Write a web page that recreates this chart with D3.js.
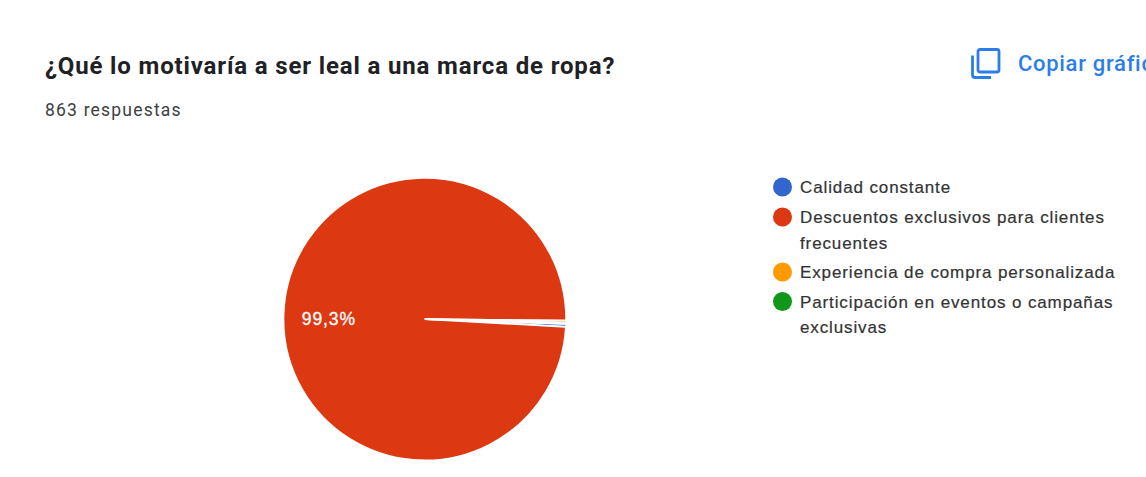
<!DOCTYPE html>
<html lang="es">
<head>
<meta charset="utf-8">
<script src="https://cdn.jsdelivr.net/npm/d3@7"></script>
<style>
  html, body { margin: 0; padding: 0; background: #fff; overflow: hidden; }
  svg { display: block; font-family: Roboto, sans-serif; }
</style>
</head>
<body>
<svg id="chart" width="1146" height="477"></svg>
<script>
// Survey answers: question, response count and the four options.
const question = "¿Qué lo motivaría a ser leal a una marca de ropa?";
const responses = "863 respuestas";
const categories = [
  "Calidad constante",
  "Descuentos exclusivos para clientes frecuentes",
  "Experiencia de compra personalizada",
  "Participación en eventos o campañas exclusivas"
];
const legendLines = [
  ["Calidad constante"],
  ["Descuentos exclusivos para clientes", "frecuentes"],
  ["Experiencia de compra personalizada"],
  ["Participación en eventos o campañas", "exclusivas"]
];
const counts = [3, 857, 2, 1];
const colors = ["#3366cc", "#dc3912", "#ff9900", "#109618"];
const sliceLabels = ["", "99,3%", "", ""];

const svg = d3.select("#chart");

svg.append("text").attr("x", 45).attr("y", 74)
  .attr("font-size", 24).attr("font-weight", 700).attr("letter-spacing", 0.85).attr("fill", "#202124")
  .text(question);

svg.append("text").attr("x", 45).attr("y", 116)
  .attr("font-size", 17.5).attr("letter-spacing", 1.2).attr("fill", "#3c4043")
  .text(responses);

// "Copy chart" action in the header, clipped by the page edge.
const copy = svg.append("g").attr("transform", "translate(971,48)");
copy.append("path")
  .attr("d", "M9 1.5 H26 A2 2 0 0 1 28 3.5 V22 A2 2 0 0 1 26 24 H9 A2 2 0 0 1 7 22 V3.5 A2 2 0 0 1 9 1.5 Z M1.5 7.5 V27 A2.5 2.5 0 0 0 4 29.5 H20")
  .attr("fill", "none").attr("stroke", "#2b7de9").attr("stroke-width", 2.8);
svg.append("text").attr("x", 1018).attr("y", 71)
  .attr("font-size", 22).attr("font-weight", 500).attr("letter-spacing", 0.7).attr("fill", "#2b7de9")
  .text("Copiar gráfico");

// Pie, rotated so the thin slices sit at three o'clock.
const cx = 424.8, cy = 319.1, radius = 141.3;
const startDeg = 91.9;
const pie = d3.pie().sort(null).value(d => d)
  .startAngle(startDeg * Math.PI / 180)
  .endAngle((startDeg + 360) * Math.PI / 180);
const arc = d3.arc().innerRadius(0).outerRadius(radius);
const chart = svg.append("g").attr("transform", `translate(${cx},${cy})`);

chart.selectAll("path").data(pie(counts)).join("path")
  .attr("d", arc)
  .attr("fill", (d, i) => colors[i])
  .attr("stroke", "#fff")
  .attr("stroke-width", 1.7);

chart.selectAll("text").data(pie(counts)).join("text")
  .attr("x", -123).attr("y", 6)
  .attr("font-family", "'Liberation Sans', Arial, sans-serif")
  .attr("font-size", 17.5).attr("letter-spacing", 0.9)
  .attr("fill", "#fff").attr("stroke", "#fff").attr("stroke-width", 0.3)
  .text((d, i) => sliceLabels[i]);

// Legend: dot plus one or two lines of text per option.
const legendY = d3.scaleOrdinal().domain(categories).range([187, 217, 272, 301.5]);
const legend = svg.append("g").selectAll("g").data(categories).join("g")
  .attr("transform", d => `translate(0,${legendY(d)})`);
legend.append("circle").attr("cx", 782.5).attr("cy", 0).attr("r", 9.5)
  .attr("fill", (d, i) => colors[i]);
legend.each(function (d, i) {
  d3.select(this).selectAll("text").data(legendLines[i]).join("text")
    .attr("x", 800).attr("y", (t, j) => 6 + j * 25.5)
    .attr("font-family", "'Liberation Sans', Arial, sans-serif")
    .attr("font-size", 17).attr("letter-spacing", 0.88)
    .attr("fill", "#333").attr("stroke", "#333").attr("stroke-width", 0.2)
    .text(t => t);
});
</script>
</body>
</html>
